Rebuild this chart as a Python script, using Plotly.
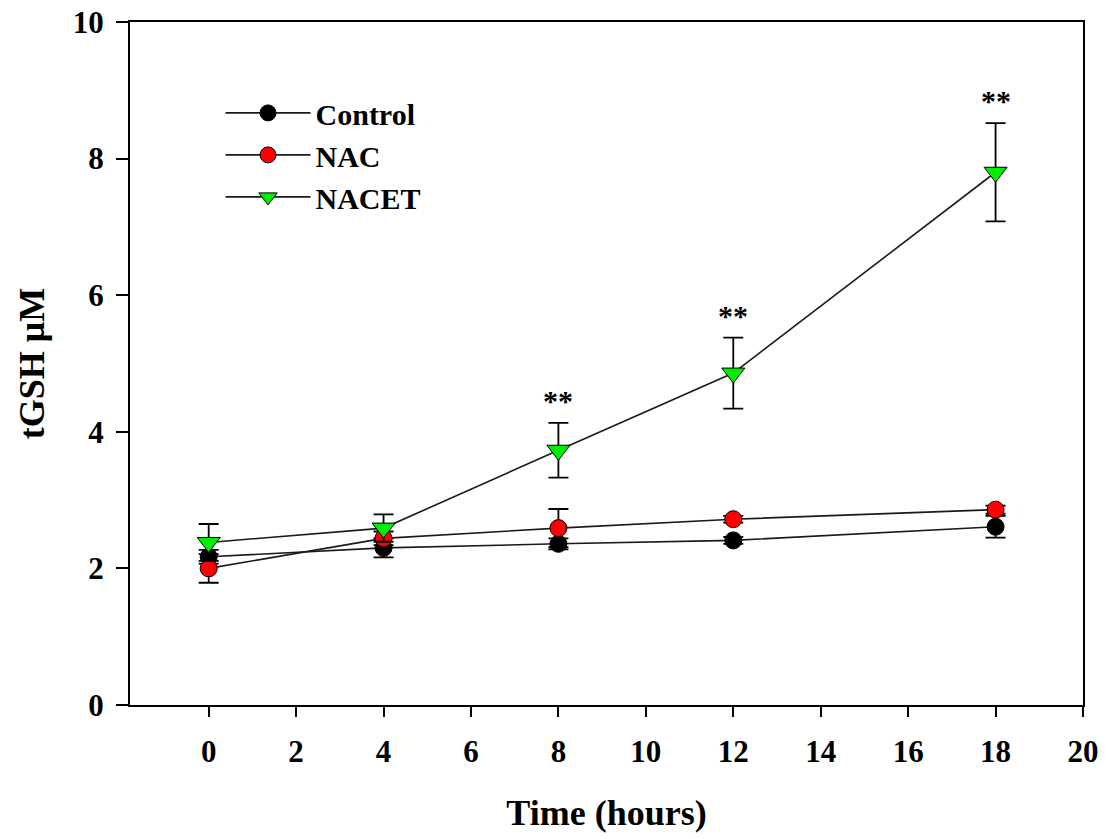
import plotly.graph_objects as go

# Sampling times (hours)
hours = [0, 4, 8, 12, 18]

# Total glutathione (µM), mean and error per treatment
control_mean = [2.17, 2.30, 2.36, 2.41, 2.61]
control_err = [0.10, 0.14, 0.08, 0.05, 0.16]

nac_mean = [2.00, 2.44, 2.59, 2.72, 2.86]
nac_err = [0.21, 0.10, 0.28, 0.05, 0.06]

nacet_mean = [2.38, 2.59, 3.73, 4.86, 7.80]
nacet_err = [0.27, 0.20, 0.40, 0.52, 0.72]

# Time points flagged as significant for NACET
sig_hours = [8, 12, 18]
sig_label = "**"

x_ticks = list(range(0, 21, 2))
y_ticks = list(range(0, 11, 2))

FONT = "Liberation Serif, Times New Roman, serif"
LINE = "#1a1a1a"

series = [
    ("Control", control_mean, control_err, "circle", "#000000", 17),
    ("NAC", nac_mean, nac_err, "circle", "#ff0000", 17),
    ("NACET", nacet_mean, nacet_err, "triangle-down", "#00ee00", 20),
]

fig = go.Figure()
for name, mean, err, symbol, color, size in series:
    fig.add_trace(go.Scatter(
        x=hours, y=mean, name=name, mode="lines+markers",
        line=dict(color=LINE, width=1.6),
        marker=dict(symbol=symbol, color=color, size=size,
                    line=dict(color="#000000", width=1)),
        error_y=dict(type="data", array=err, visible=True,
                     color="#000000", thickness=1.8, width=10),
        hoverinfo="skip",
    ))

# Significance marks above the NACET error bars
for h in sig_hours:
    i = hours.index(h)
    fig.add_annotation(
        x=h, y=nacet_mean[i] + nacet_err[i], text=sig_label,
        showarrow=False, yanchor="bottom", yshift=4,
        font=dict(family=FONT, size=30, color="#000000", weight="bold"),
    )

axis_common = dict(
    showline=True, linecolor="#000000", linewidth=2, mirror=True,
    ticks="outside", tickcolor="#000000", tickwidth=2,
    showgrid=False, zeroline=False, automargin=False,
    tickfont=dict(family=FONT, size=31, color="#000000", weight="bold"),
)

fig.update_xaxes(
    range=[-1.8, 20], tickvals=x_ticks, ticklen=10,
    ticklabelstandoff=8,
    title=dict(text="Time (hours)", standoff=32,
               font=dict(family=FONT, size=36, color="#000000", weight="bold")),
    **axis_common,
)
fig.update_yaxes(
    range=[0, 10], tickvals=y_ticks, ticklen=12,
    ticklabelstandoff=6,
    title=dict(text="tGSH \u03bcM", standoff=17,
               font=dict(family=FONT, size=36, color="#000000", weight="bold")),
    **axis_common,
)

fig.update_layout(
    width=1107, height=839,
    margin=dict(l=130, r=24, t=22, b=134),
    plot_bgcolor="#ffffff", paper_bgcolor="#ffffff",
    showlegend=True,
    legend=dict(
        x=0.095, y=0.905, xanchor="left", yanchor="top",
        bgcolor="rgba(0,0,0,0)", borderwidth=0,
        font=dict(family=FONT, size=30, color="#000000", weight="bold"),
        itemwidth=85, tracegroupgap=0,
    ),
)

fig.write_html("out.html")
